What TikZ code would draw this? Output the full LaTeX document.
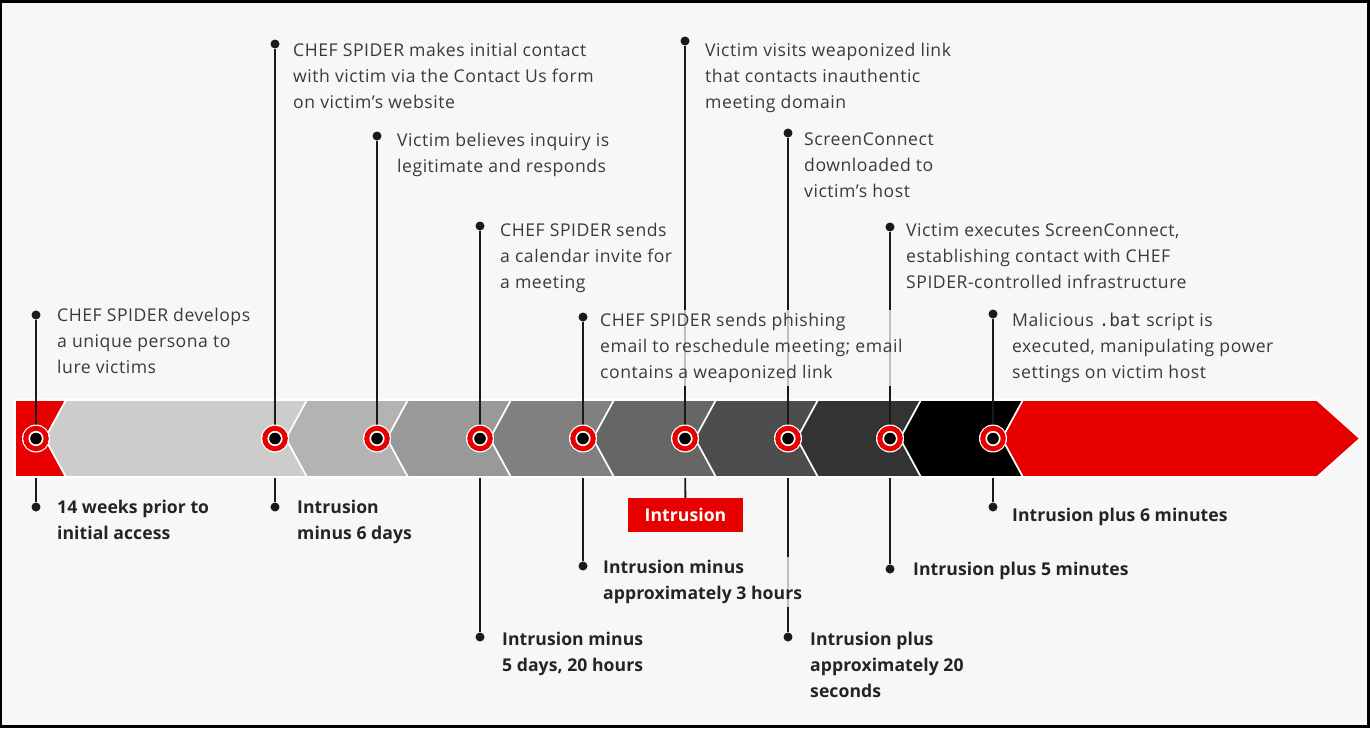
\documentclass[tikz,border=0pt]{standalone}
\usepackage{fontspec}
\setmainfont{Open Sans}[LetterSpace=3, BoldFeatures={LetterSpace=0.3}]
\setmonofont{DejaVu Sans Mono}
\definecolor{bg}{HTML}{F7F7F7}
\definecolor{cred}{HTML}{E80000}
\definecolor{txt}{HTML}{3A3A3A}
\definecolor{txtb}{HTML}{242424}
\definecolor{lnk}{HTML}{1A1A1A}
\definecolor{g1}{HTML}{CCCCCC}
\definecolor{g2}{HTML}{B3B3B3}
\definecolor{g3}{HTML}{999999}
\definecolor{g4}{HTML}{808080}
\definecolor{g5}{HTML}{666666}
\definecolor{g6}{HTML}{4D4D4D}
\definecolor{g7}{HTML}{333333}
\definecolor{g8}{HTML}{000000}
\tikzset{
  seg/.style={draw=white, line width=1.6pt, line join=miter},
  marker/.style={circle, minimum size=28pt, inner sep=0pt, fill=white,
    path picture={
      \fill[cred] (path picture bounding box.center) circle (12.8pt);
      \fill[white] (path picture bounding box.center) circle (7.6pt);
      \fill[black] (path picture bounding box.center) circle (5.8pt);}},
  tipdot/.style={circle, fill=lnk, minimum size=9pt, inner sep=0pt},
  conn/.style={draw=lnk, line width=1.8pt},
  lbl/.style={anchor=north west, align=left, inner xsep=2pt, inner ysep=3pt,
    font=\fontsize{17.6}{26}\selectfont, text=txt,
    fill=bg, fill opacity=0.75, text opacity=1},
  when/.style={lbl, font=\fontsize{17.6}{26}\selectfont\bfseries, text=txtb},
  keybox/.style={fill=cred, text=white, minimum width=115pt, minimum height=34pt,
    inner sep=0pt, font=\fontsize{17.6}{20}\selectfont\bfseries},
}
\begin{document}
\begin{tikzpicture}[x=1pt,y=-1pt]
\useasboundingbox (0,0) rectangle (1370,728);
% frame and background
\fill[black] (0,0) rectangle (1370,728);
\fill[bg] (2,3) rectangle (1367,725);

% markers on the band
\foreach \i/\x in {1/36,2/275,3/377,4/480,5/583,6/685,7/788,8/890,9/993}
  \coordinate (c\i) at (\x,438.5);

% dots of the lower connectors
\node[tipdot] (b1) at (36,507) {};
\node[tipdot] (b2) at (275,507) {};
\node[tipdot] (b4) at (480,637) {};
\node[tipdot] (b5) at (583,566) {};
\node[keybox] (b6) at (685.5,515) {Intrusion};
\node[tipdot] (b7) at (788,637) {};
\node[tipdot] (b8) at (890,569) {};
\node[tipdot] (b9) at (993,507) {};
\foreach \i in {1,2,4,5,6,7,8,9}
  \draw[conn] (c\i) -- (b\i);

% the band: red start, gray chevrons, red arrow
\filldraw[seg, fill=cred] (15,400) -- (66,400) -- (45,438.5) -- (66,477) -- (15,477) -- cycle;
\foreach \a/\b/\c in {66/307/g1,307/408/g2,408/511/g3,511/614/g4,614/716/g5,716/818/g6,818/921/g7,921/1023/g8}
  \filldraw[seg, fill=\c] (\a,400) -- (\b,400) -- ({\b-21},438.5) -- (\b,477) -- (\a,477) -- ({\a-21},438.5) -- cycle;
\filldraw[seg, fill=cred] (1023,400) -- (1317,400) -- (1360,438.5) -- (1317,477) -- (1023,477) -- (1002,438.5) -- cycle;

% dots of the upper connectors
\node[tipdot] (t1) at (36,315) {};
\node[tipdot] (t2) at (275,44) {};
\node[tipdot] (t3) at (377,136) {};
\node[tipdot] (t4) at (480,226) {};
\node[tipdot] (t5) at (583,317) {};
\node[tipdot] (t6) at (685,41) {};
\node[tipdot] (t7) at (788,133) {};
\node[tipdot] (t8) at (890,227) {};
\node[tipdot] (t9) at (993,314) {};
\foreach \i in {1,...,9}
  \draw[conn] (t\i) -- (c\i);

\foreach \i in {1,...,9}
  \node[marker] (m\i) at (c\i) {};

% event descriptions
\node[lbl] (d1) at (55,305) {CHEF SPIDER develops\\a unique persona to\\lure victims};
\node[lbl] (d2) at (291,40) {CHEF SPIDER makes initial contact\\with victim via the Contact Us form\\on victim’s website};
\node[lbl] (d3) at (395,130) {Victim believes inquiry is\\legitimate and responds};
\node[lbl] (d4) at (498,220) {CHEF SPIDER sends\\a calendar invite for\\a meeting};
\node[lbl] (d5) at (598,310) {CHEF SPIDER sends phishing\\email to reschedule meeting; email\\contains a weaponized link};
\node[lbl] (d6) at (703,40) {Victim visits weaponized link\\that contacts inauthentic\\meeting domain};
\node[lbl] (d7) at (802,130) {ScreenConnect\\downloaded to\\victim’s host};
\node[lbl] (d8) at (904,220) {Victim executes ScreenConnect,\\establishing contact with CHEF\\SPIDER-controlled infrastructure};
\node[lbl] (d9) at (1010,310) {Malicious \texttt{.bat} script is\\executed, manipulating power\\settings on victim host};

% times
\node[when] (w1) at (55,497) {14 weeks prior to\\initial access};
\node[when] (w2) at (295,497) {Intrusion\\minus 6 days};
\node[when] (w4) at (500,629) {Intrusion minus\\5 days, 20 hours};
\node[when] (w5) at (601,557) {Intrusion minus\\approximately 3 hours};
\node[when] (w7) at (808,629) {Intrusion plus\\approximately 20\\seconds};
\node[when] (w8) at (911,559) {Intrusion plus 5 minutes};
\node[when] (w9) at (1010,505) {Intrusion plus 6 minutes};
\end{tikzpicture}
\end{document}
